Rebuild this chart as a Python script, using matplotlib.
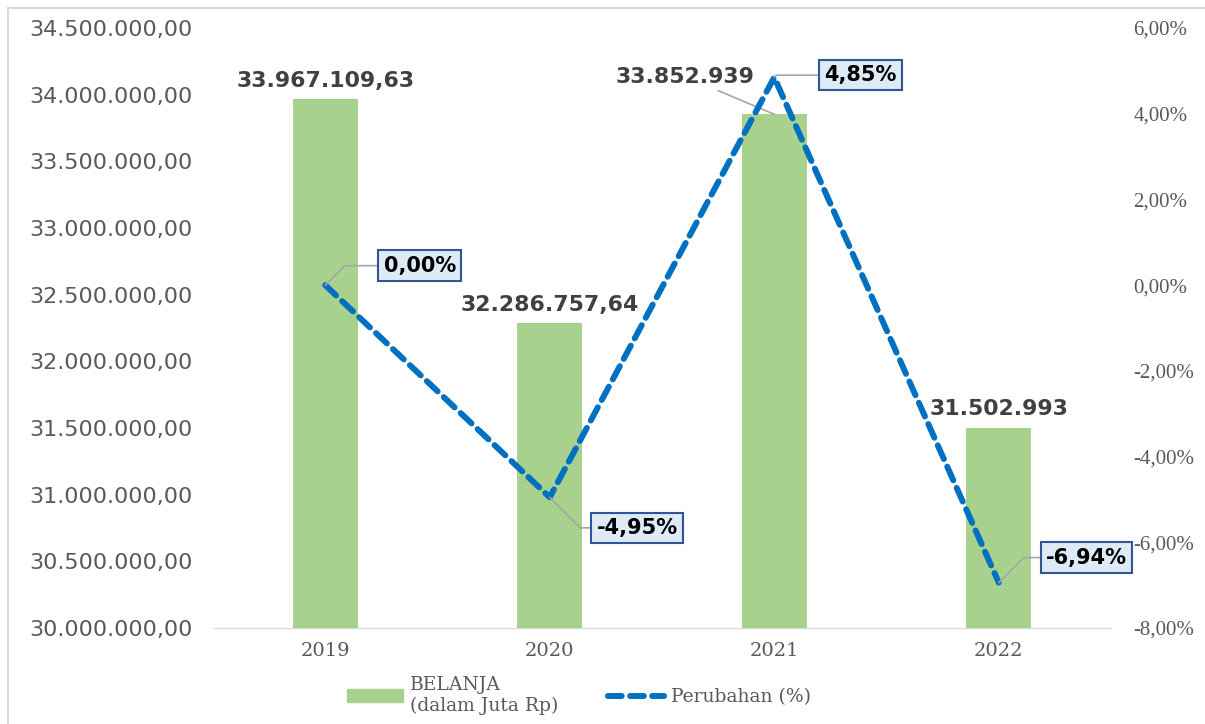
import matplotlib.pyplot as plt
from matplotlib.lines import Line2D
from matplotlib.patches import Patch

years = ['2019', '2020', '2021', '2022']
belanja = [33967109.63, 32286757.64, 33852939, 31502993]
belanja_labels = ['33.967.109,63', '32.286.757,64', '33.852.939', '31.502.993']
perubahan = [0.00, -4.95, 4.85, -6.94]
perubahan_labels = ['0,00%', '-4,95%', '4,85%', '-6,94%']

left_ticks = [30000000 + 500000 * i for i in range(10)]
right_ticks = [-8, -6, -4, -2, 0, 2, 4, 6]

bar_color = '#A9D18E'
line_color = '#0070C0'
grey_txt = '#595959'
serif = 'DejaVu Serif'


def fmt_id(v):
    s = f'{v:,.2f}'
    return s.replace(',', 'X').replace('.', ',').replace('X', '.')


fig = plt.figure(figsize=(12.05, 7.24), dpi=100)
ax = fig.add_axes([213 / 1205, 1 - 628 / 724, 898 / 1205, 600 / 724])
x = range(len(years))

ax.bar(x, belanja, width=0.29, color=bar_color, zorder=2)
ax.set_ylim(30000000, 34500000)
ax.set_xlim(-0.5, 3.5)
ax.set_yticks(left_ticks)
ax.set_yticklabels([fmt_id(v) for v in left_ticks], fontsize=16,
                   color=grey_txt, family='DejaVu Sans')
ax.set_xticks(list(x))
ax.set_xticklabels(years, fontsize=14, color=grey_txt, family=serif)
ax.tick_params(length=0, pad=10)
ax.tick_params(axis='y', pad=15)
for s in ['top', 'right', 'left']:
    ax.spines[s].set_visible(False)
ax.spines['bottom'].set_color('#D9D9D9')

# bar value labels
for i, (v, t) in enumerate(zip(belanja, belanja_labels)):
    if i == 2:
        ax.annotate(t, xy=(i, v), xytext=(-64, 27), textcoords='offset points',
                    ha='center', va='center', fontsize=15.8, fontweight='bold',
                    color='#404040',
                    arrowprops=dict(arrowstyle='-', color='#A6A6A6', lw=1.2,
                                    shrinkA=2, shrinkB=0))
    else:
        ax.annotate(t, xy=(i, v), xytext=(0, 6), textcoords='offset points',
                    ha='center', va='bottom', fontsize=15.8, fontweight='bold',
                    color='#404040')

ax2 = ax.twinx()
ax2.plot(list(x), perubahan, color=line_color, lw=4.3, ls=(0, (2.5, 1.4)),
         dash_capstyle='round', zorder=3)
ax2.set_ylim(-8, 6)
ax2.set_yticks(right_ticks)
ax2.set_yticklabels([f'{v:.2f}%'.replace('.', ',') for v in right_ticks],
                    fontsize=15, color=grey_txt, family='Liberation Serif')
ax2.tick_params(length=0, pad=16)
for s in ['top', 'right', 'left', 'bottom']:
    ax2.spines[s].set_visible(False)

# percent labels with leader lines
pct_off = [(68, 14), (63, -22), (62, 1.5), (63, 18)]
pct_angle = [45, -45, 45, 45]
for i, (v, t) in enumerate(zip(perubahan, perubahan_labels)):
    ax2.annotate(t, xy=(i, v), xytext=pct_off[i], textcoords='offset points',
                 ha='center', va='center', fontsize=15, fontweight='bold',
                 color='black',
                 bbox=dict(boxstyle='square,pad=0.25', fc='#DEEBF7',
                           ec='#2F5597', lw=1.5),
                 arrowprops=dict(arrowstyle='-', color='#A6A6A6', lw=1.2,
                                 shrinkA=0, shrinkB=0,
                                 connectionstyle=f'angle,angleA=0,angleB={pct_angle[i]},rad=0'),
                 zorder=5)

# legend
handles = [Patch(color=bar_color),
           Line2D([0], [0], color=line_color, lw=4.3, ls=(0, (2.3, 1.4)),
                  dash_capstyle='round')]
fig.legend(handles, ['BELANJA\n(dalam Juta Rp)', 'Perubahan (%)'],
           loc='upper center', bbox_to_anchor=(0.4805, 0.077), ncol=2,
           frameon=False, prop={'family': serif, 'size': 13.5},
           labelcolor=grey_txt, handlelength=3.0, handletextpad=0.4,
           columnspacing=2.6, borderaxespad=0)

# chart frame
fig.add_artist(Line2D([8 / 1205, 8 / 1205], [0, 1 - 8 / 724],
                      transform=fig.transFigure, color='#D9D9D9', lw=1.5))
fig.add_artist(Line2D([8 / 1205, 1], [1 - 8 / 724, 1 - 8 / 724],
                      transform=fig.transFigure, color='#D9D9D9', lw=1.5))

fig.savefig('out.png', dpi=100)
